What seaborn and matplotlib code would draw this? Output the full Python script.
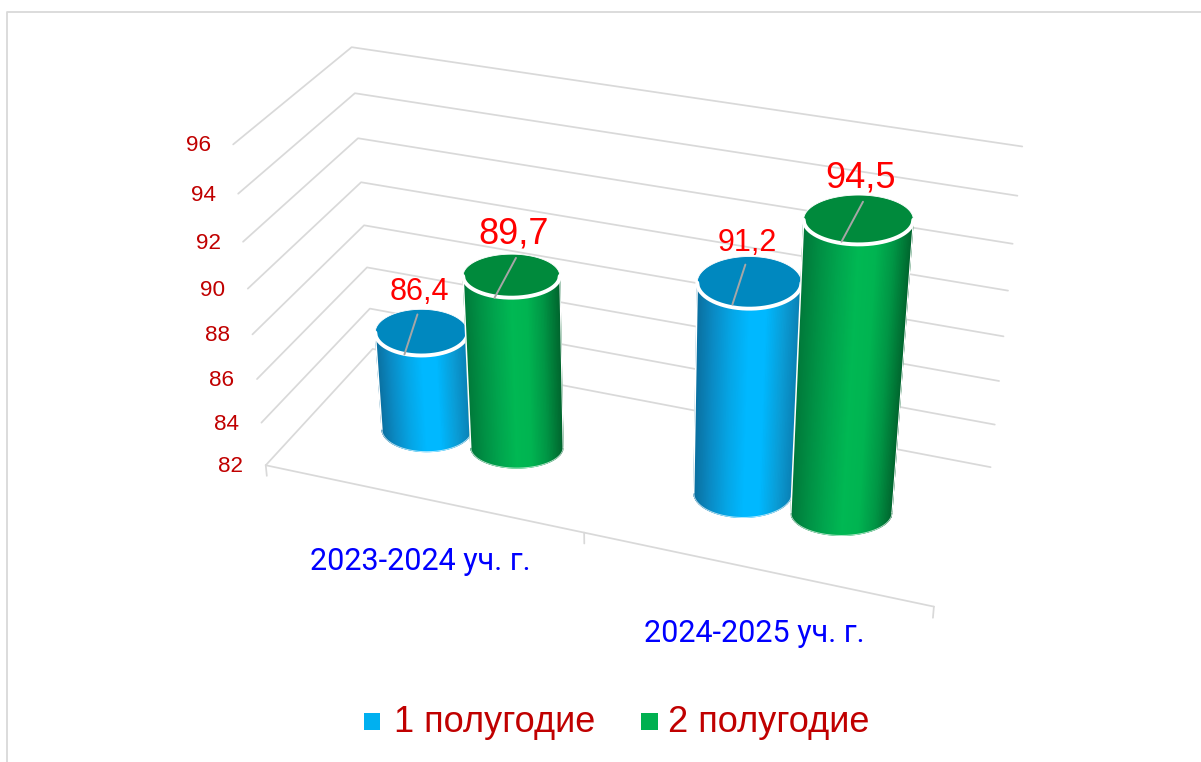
import numpy as np
import pandas as pd
import matplotlib
matplotlib.use("Agg")
import matplotlib.pyplot as plt
import seaborn as sns

# ---- chart data ----
categories = ["2023-2024 уч. г.", "2024-2025 уч. г."]
series_names = ["1 полугодие", "2 полугодие"]
first_half = [86.4, 91.2]
second_half = [89.7, 94.5]
value_ticks = [82, 84, 86, 88, 90, 92, 94, 96]

# ---- colours ----
GRID = "#d9d9d9"
side_stops = {
    0: ["#0a6f9f", "#0a8cc6", "#05a6e6", "#00b8ff", "#00b8ff", "#0a9ed8", "#0a80b4"],
    1: ["#00793a", "#009145", "#00a64e", "#00b853", "#00b451", "#009645", "#00662e"],
}
top_colour = {0: "#0088bf", 1: "#008a3c"}
legend_colour = {0: "#00b0f0", 1: "#00b050"}

# ---- camera: the scene's perspective, fitted to the frame of the 3D box ----
left_front = [(266.3, 464.3), (260.7, 422.7), (256, 379), (252, 334), (248, 288.7),
              (243.3, 242), (238.7, 193.7), (233.3, 144.7)]
left_back = [(373, 350), (370, 309), (367, 267), (364, 225), (361, 182),
             (358, 138), (355, 93.3), (351.3, 47.3)]
right_back = [(990.5, 466.7), (995, 424), (999, 381), (1003.3, 336.7), (1008, 290.7),
              (1012.7, 244), (1017, 196), (1022.7, 146)]
front_edge = [(0.0, (266.3, 464.3)), (0.5, (584, 535)), (1.0, (934, 606))]

V0, V1 = value_ticks[0], value_ticks[-1]


def level(v):
    return (float(v) - V0) / (V1 - V0)


world, image = [], []
for i, v in enumerate(value_ticks):
    u = level(v)
    world += [(0, 0, u), (0, 1, u), (1, 1, u)]
    image += [left_front[i], left_back[i], right_back[i]]
for s, p in front_edge:
    world.append((s, 0, 0))
    image.append(p)

A = []
for (X, Y, Z), (x, y) in zip(world, image):
    A.append([X, Y, Z, 1, 0, 0, 0, 0, -x * X, -x * Y, -x * Z, -x])
    A.append([0, 0, 0, 0, X, Y, Z, 1, -y * X, -y * Y, -y * Z, -y])
P = np.linalg.svd(np.array(A, float))[2][-1].reshape(3, 4)


def project(s, d, u):
    s, d, u = np.broadcast_arrays(np.asarray(s, float), np.asarray(d, float), np.asarray(u, float))
    w = np.stack([s, d, u, np.ones_like(s)])
    q = np.tensordot(P, w, axes=1)
    return q[0] / q[2], q[1] / q[2]


# ---- figure ----
sns.set_theme(style="white")
plt.rcParams["font.family"] = ["Liberation Sans", "DejaVu Sans"]
fig = plt.figure(figsize=(12.01, 7.62), dpi=100, facecolor="white")
ax = fig.add_axes([0, 0, 1, 1])

# frame of the picture
ax.plot([7, 7, 1201], [762, 12, 12], color=GRID, lw=1.3, zorder=1)

# gridlines of the walls and the axis lines, through seaborn
rows = []
for v in value_ticks:
    u = level(v)
    xs, ys = project([0, 0, 1], [0, 1, 1], [u, u, u])
    for o, (x, y) in enumerate(zip(xs, ys)):
        rows.append(dict(line=f"v{v}", order=o, x=x, y=y))
xs, ys = project([0, 1], [0, 0], [0, 0])
for o, (x, y) in enumerate(zip(xs, ys)):
    rows.append(dict(line="front", order=o, x=x, y=y))
for k, s in enumerate([0, 0.5, 1]):
    xs, ys = project([s, s], [0, 0], [0, -0.036])
    for o, (x, y) in enumerate(zip(xs, ys)):
        rows.append(dict(line=f"tick{k}", order=o, x=x, y=y))
grid = pd.DataFrame(rows)
sns.lineplot(data=grid, x="x", y="y", units="line", estimator=None, sort=False,
             color=GRID, lw=1.25, ax=ax, legend=False, zorder=2)

# value axis labels
for v in value_ticks:
    x, y = project(0, 0, level(v))
    ax.text(float(x) - 35, float(y) + 1.5, str(v), color="#c00000", fontsize=16.2,
            ha="center", va="center", zorder=3)

# ---- cylinders ----
DEPTH = 0.5
CENTRES = [0.25, 0.75]
OFFSET = 0.0735
R_S = 0.0745
BASE_U = -0.012
FLATNESS = {0: 0.50, 1: 0.45}
LEADER = {0: ((-17, 22), (-4, -18)), 1: ((-17, 22), (4.5, -18))}
z = 10
LABEL_STYLE = {0: (22, -40), 1: (26, -42)}


def disc(s, u, series):
    """Centre and half-axes of the cylinder's circle at height u, in pixels."""
    cx, cy = project(s, DEPTH, u)
    x0, _ = project(s - R_S, DEPTH, u)
    x1, _ = project(s + R_S, DEPTH, u)
    a = abs(float(x1) - float(x0)) / 2
    return float(cx), float(cy), a, a * FLATNESS[series]


def cylinder(s, value, series):
    global z
    u = level(value)
    bcx, bcy, ba, bb = disc(s, BASE_U, series)
    tcx, tcy, ta, tb = disc(s, u, series)
    cmap = sns.blend_palette(side_stops[series], n_colors=256, as_cmap=True)
    # left silhouette -> front -> right silhouette, evenly spaced across the width
    across = np.linspace(0, 1, 161)
    front = np.arccos(1 - 2 * across)[::-1]
    bx, by = bcx + ba * np.cos(front), bcy + bb * np.sin(front)
    tx, ty = tcx + ta * np.cos(front), tcy + tb * np.sin(front)
    X = np.vstack([tx, bx])
    Y = np.vstack([ty, by])
    C = np.vstack([across[::1], across[::1]])
    ax.pcolormesh(X, Y, C, shading="gouraud", cmap=cmap, vmin=0, vmax=1, zorder=z)
    # soften the curved bottom edge and the silhouettes
    ax.plot(bx, by, color="white", lw=0.7, alpha=0.7, zorder=z + 0.1)
    ax.plot([bx[0], tx[0]], [by[0], ty[0]], color="white", lw=1.1, zorder=z + 0.1)
    ax.plot([bx[-1], tx[-1]], [by[-1], ty[-1]], color="white", lw=0.8, zorder=z + 0.1)
    # top face
    ring = np.linspace(0, 2 * np.pi, 181)
    ax.fill(tcx + ta * np.cos(ring), tcy + tb * np.sin(ring), facecolor=top_colour[series],
            edgecolor="white", lw=0.6, zorder=z + 0.2)
    ax.plot(tx, ty, color="white", lw=2.8, zorder=z + 0.3)
    # leader line across the top
    (dx0, dy0), (dx1, dy1) = LEADER[series]
    ax.plot([tcx + dx0, tcx + dx1], [tcy + dy0, tcy + dy1], color="#a6a6a6", lw=1.4, zorder=z + 0.4)
    z += 1


for k in range(len(categories)):
    cylinder(CENTRES[k] - OFFSET, first_half[k], 0)
    cylinder(CENTRES[k] + OFFSET, second_half[k], 1)

# data labels
for k in range(len(categories)):
    for series, vals in enumerate([first_half, second_half]):
        s = CENTRES[k] + (2 * series - 1) * OFFSET
        x, y = project(s, DEPTH, level(vals[k]))
        size, dy = LABEL_STYLE[series]
        ax.text(float(x) - 2 + 4 * series, float(y) + dy, f"{vals[k]}".replace(".", ","), color="#ff0000",
                fontsize=size, ha="center", va="center", zorder=40)

# category labels
cat_pos = [(420.5, 562), (754, 633)]
for name, (x, y) in zip(categories, cat_pos):
    ax.text(x, y, name, color="#0000ff", fontsize=22, family=["Roboto", "DejaVu Sans"],
            ha="center", va="center", zorder=40)

# legend
legend_frame = pd.DataFrame({"x": [372, 649.5], "y": [721.5, 721.5], "name": series_names})
sns.scatterplot(data=legend_frame, x="x", y="y", hue="name",
                palette=[legend_colour[0], legend_colour[1]],
                marker="s", s=135, linewidth=0, ax=ax, legend=False, zorder=40)
for name, x in zip(series_names, [394, 668]):
    ax.text(x, 732.5, name, color="#c00000", fontsize=26, ha="left", va="baseline", zorder=40)

ax.set_xlim(0, 1201)
ax.set_ylim(762, 0)
ax.axis("off")
fig.savefig("out.png", dpi=100, facecolor="white")
